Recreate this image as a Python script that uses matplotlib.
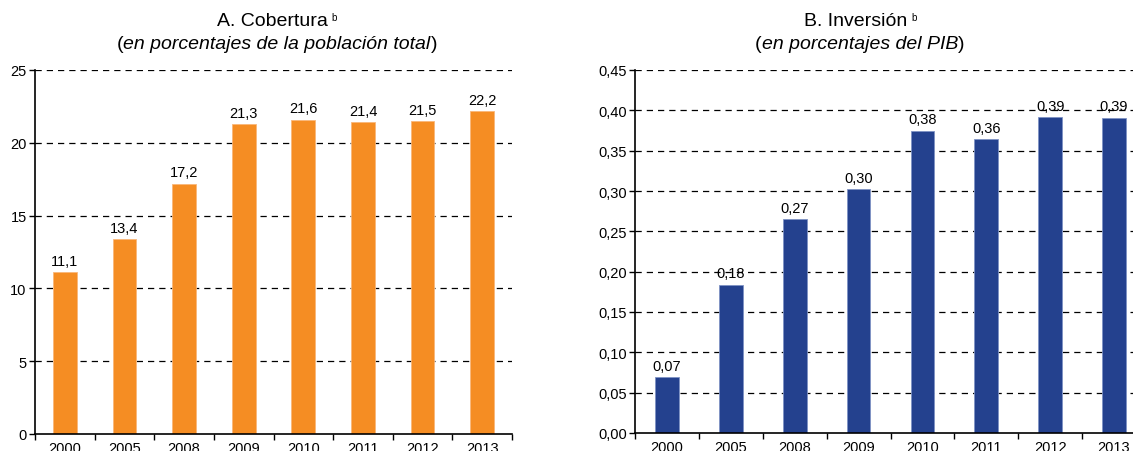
import matplotlib
matplotlib.use('Agg')
import matplotlib.pyplot as plt
import numpy as np
from matplotlib.offsetbox import TextArea, HPacker, VPacker, AnnotationBbox

plt.rcParams['font.family'] = ['Liberation Sans', 'DejaVu Sans']

years = ['2000', '2005', '2008', '2009', '2010', '2011', '2012', '2013']

# A. Cobertura (% de la poblacion total)
cobertura = [11.1, 13.4, 17.2, 21.3, 21.6, 21.4, 21.5, 22.2]
cobertura_lbl = ['11,1', '13,4', '17,2', '21,3', '21,6', '21,4', '21,5', '22,2']

# B. Inversion (% del PIB)
inversion = [0.069, 0.184, 0.265, 0.302, 0.375, 0.364, 0.392, 0.391]
inversion_lbl = ['0,07', '0,18', '0,27', '0,30', '0,38', '0,36', '0,39', '0,39']

orange = '#F58D23'
blue = '#24418E'

W, H = 1133, 452
fig = plt.figure(figsize=(W / 100, H / 100), dpi=100)


def px_axes(x0, x1, y_top, y_bot):
    return fig.add_axes([x0 / W, 1 - y_bot / H, (x1 - x0) / W, (y_bot - y_top) / H])


def style_axes(ax, yticks, ylabels, ymax):
    ax.set_xlim(-0.5, len(years) - 0.5)
    ax.set_ylim(0, ymax)
    ax.set_yticks(yticks)
    ax.set_yticklabels(ylabels, fontsize=10.5)
    ax.set_xticks(np.arange(len(years)))
    ax.set_xticklabels(years, fontsize=10.5)
    ax.set_xticks(np.arange(-0.5, len(years)), minor=True)
    ax.tick_params(axis='x', which='major', length=0, pad=5)
    ax.tick_params(axis='x', which='minor', length=4, width=1, direction='out')
    ax.tick_params(axis='y', length=4, width=1, direction='out', pad=2)
    for s in ['top', 'right']:
        ax.spines[s].set_visible(False)
    for s in ['left', 'bottom']:
        ax.spines[s].set_linewidth(1.2)
        ax.spines[s].set_zorder(5)
    for yt in yticks[1:]:
        ax.axhline(yt, color='black', lw=0.9, ls=(0, (5, 4)), zorder=0)


def title(x_px, y_px, head, sub):
    t1 = TextArea(head, textprops=dict(fontsize=14))
    t_b = TextArea('b', textprops=dict(fontsize=7))
    line1 = HPacker(children=[t1, t_b], align='top', pad=0, sep=3)
    p1 = TextArea('(', textprops=dict(fontsize=14))
    p2 = TextArea(sub, textprops=dict(fontsize=14, style='italic'))
    p3 = TextArea(')', textprops=dict(fontsize=14))
    line2 = HPacker(children=[p1, p2, p3], align='baseline', pad=0, sep=0)
    box = VPacker(children=[line1, line2], align='center', pad=0, sep=4)
    ab = AnnotationBbox(box, (x_px / W, 1 - y_px / H), xycoords='figure fraction',
                        box_alignment=(0.5, 0.5), frameon=False)
    fig.add_artist(ab)


# left panel
ax1 = px_axes(35, 512, 71, 435)
x = np.arange(len(years))
ax1.bar(x, cobertura, width=0.4, color=orange, edgecolor='#F9B77A', linewidth=0.6, zorder=2)
style_axes(ax1, [0, 5, 10, 15, 20, 25], ['0', '5', '10', '15', '20', '25'], 25)
for xi, v, lbl in zip(x, cobertura, cobertura_lbl):
    ax1.annotate(lbl, (xi, v), xytext=(0, 3), textcoords='offset points',
                 ha='center', va='bottom', fontsize=10.5, zorder=6)
title(277, 33, 'A. Cobertura', 'en porcentajes de la población total')

# right panel
ax2 = px_axes(635, 1146, 71, 434)
ax2.bar(x, inversion, width=0.37, color=blue, edgecolor='#7F93C4', linewidth=0.6, zorder=2)
yt2 = [0, 0.05, 0.10, 0.15, 0.20, 0.25, 0.30, 0.35, 0.40, 0.45]
style_axes(ax2, yt2, [('%.2f' % v).replace('.', ',') for v in yt2], 0.45)
for xi, v, lbl in zip(x, inversion, inversion_lbl):
    ax2.annotate(lbl, (xi, v), xytext=(0, 3), textcoords='offset points',
                 ha='center', va='bottom', fontsize=10.5, zorder=6)
title(860, 33, 'B. Inversión', 'en porcentajes del PIB')

fig.savefig('out.png', dpi=100)
